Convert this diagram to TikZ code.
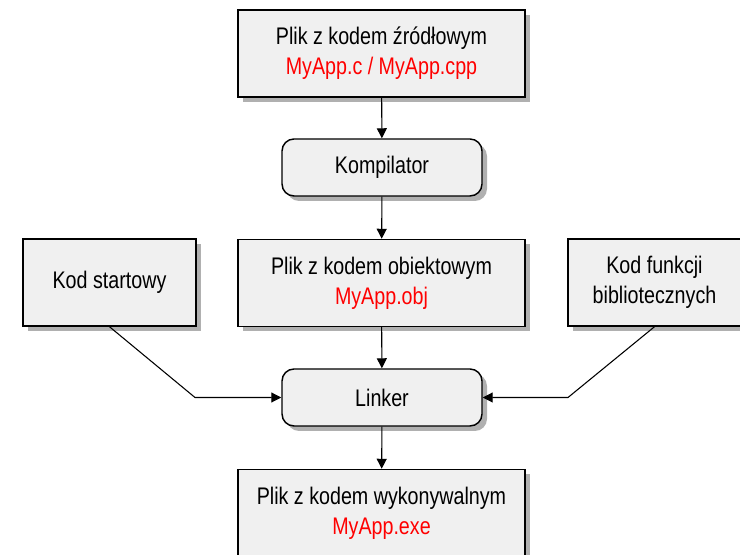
\documentclass[tikz,border=0pt]{standalone}
\usepackage{fontspec}
\setmainfont{Liberation Sans}[FakeStretch=0.82]
\usetikzlibrary{arrows.meta,shadows}
\definecolor{boxfill}{HTML}{F0F0F0}
\definecolor{shadowgray}{HTML}{B0B0B0}
\tikzset{
  boxbase/.style={draw=black, line width=1.1pt, fill=boxfill, inner sep=0pt, align=center,
    font=\fontsize{18}{22.5}\selectfont,
    drop shadow={shadow xshift=3.75pt, shadow yshift=-3.75pt, fill=shadowgray, opacity=1}},
  filebox/.style={boxbase, rectangle, minimum width=215.25pt, minimum height=65.25pt},
  sidebox/.style={boxbase, rectangle, minimum width=129.75pt, minimum height=65.25pt},
  procbox/.style={boxbase, rectangle, rounded corners=9pt, minimum width=150pt, minimum height=42.75pt},
  arr/.style={draw=black, line width=0.8pt, -{Triangle[width=7.5pt,length=7.5pt]}}
}
\begin{document}
\begin{tikzpicture}[x=0.75pt, y=-0.75pt]
\useasboundingbox (0,0) rectangle (740,555);
\node[filebox] (src) at (381.5,53.5) {Plik z kodem źródłowym\\\textcolor{red}{MyApp.c / MyApp.cpp}};
\node[procbox] (comp) at (382,167.5) {Kompilator};
\node[filebox] (obj) at (381.5,283) {Plik z kodem obiektowym\\\textcolor{red}{MyApp.obj}};
\node[sidebox] (start) at (109.5,282.5) {Kod startowy};
\node[sidebox] (lib) at (654.5,282.5) {Kod funkcji\\bibliotecznych};
\node[procbox] (link) at (382,397.5) {Linker};
\node[filebox] (exe) at (381.5,513) {Plik z kodem wykonywalnym\\\textcolor{red}{MyApp.exe}};
\coordinate (jl) at (195,397.5);
\coordinate (jr) at (568,397.5);
\draw[arr] (src) -- (comp);
\draw[arr] (comp) -- (obj);
\draw[arr] (obj) -- (link);
\draw[arr] (link) -- (exe);
\draw[arr] (start.south) -- (jl) -- (link.west);
\draw[arr] (lib.south) -- (jr) -- (link.east);
\end{tikzpicture}
\end{document}
